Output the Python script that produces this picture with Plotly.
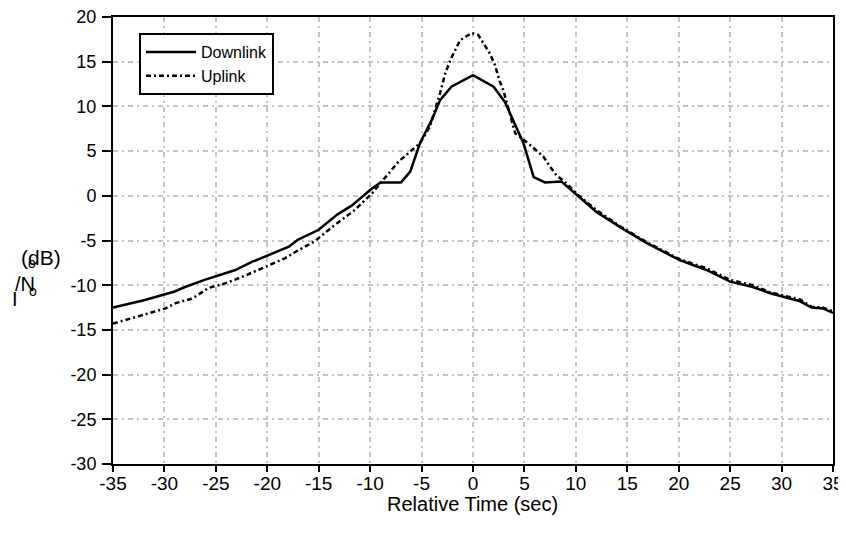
import plotly.graph_objects as go

x_down = [-35, -33.8, -31.9, -29, -28, -26.1, -24.8, -23.1, -21.5, -20.2, -17.9, -17, -15, -13.2, -11.8,
          -10, -9, -7, -6.1, -5.15, -4, -3.2, -2.1, 0, 2, 3.1, 4.9, 5.9, 7.0, 8.6, 10.1, 12, 14.3, 15.6,
          16.9, 20.1, 22.7, 25, 27.2, 28.9, 31.8, 32.9, 34, 35]
y_down = [-12.5, -12.2, -11.65, -10.7, -10.2, -9.4, -8.9, -8.3, -7.4, -6.8, -5.7, -4.9, -3.8, -2.1, -1.1,
          0.65, 1.5, 1.5, 2.7, 5.9, 8.5, 10.7, 12.2, 13.5, 12.2, 10.5, 5.9, 2.1, 1.5, 1.6, 0.1, -1.8, -3.5, -4.4,
          -5.3, -7.2, -8.3, -9.6, -10.2, -10.9, -11.8, -12.5, -12.6, -13.1]

x_up = [-35, -33.2, -31.5, -29.9, -28.9, -27.3, -25.7, -24.1, -22.3, -20.5, -18.3, -17, -15.4, -13.7, -11.5,
        -9.8, -8.55, -7.26, -6.3, -5.15, -4.2, -3.2, -2.7, -2.2, -1.26, -0.13, 0.5, 1.65, 2.14, 2.6, 2.95,
        3.76, 4.1, 5.54, 6.83, 7.5, 8.1, 9, 10.1, 12, 14.3, 15.6, 16.9, 20.1, 22.7, 25, 27.2, 28.9, 31.8,
        32.9, 34, 35]
y_up = [-14.3, -13.7, -13.1, -12.6, -12.0, -11.5, -10.3, -9.8, -9.0, -8.1, -7.0, -6.1, -5.1, -3.5, -1.6,
        0.3, 2.0, 3.8, 4.75, 5.9, 7.7, 11.5, 13.7, 15.2, 17.4, 18.2, 18.0, 15.9, 14.6, 12.8, 11.8,
        8.5, 7.0, 5.7, 4.4, 3.25, 2.3, 1.5, 0.2, -1.6, -3.4, -4.3, -5.2, -7.1, -8.1, -9.4, -10.0, -10.8, -11.6,
        -12.4, -12.5, -12.9]

x_ticks = list(range(-35, 40, 5))
y_ticks = list(range(-30, 25, 5))

FONT = "Liberation Sans, Arial, sans-serif"

fig = go.Figure()
fig.add_trace(go.Scatter(x=x_down, y=y_down, mode="lines", name="Downlink",
                         line=dict(color="black", width=2.5)))
fig.add_trace(go.Scatter(x=x_up, y=y_up, mode="lines", name="Uplink",
                         line=dict(color="black", width=2.5, dash="5px,3px,2px,3px")))

# page body has an 8px margin; work in reference-screenshot pixels and convert
OFF = 8
W, H = 846 - OFF, 542 - OFF
L = 113 - OFF
T = 17 - OFF
R = W - (833 - OFF)
B = H - (464 - OFF)
pw, ph = W - L - R, H - T - B

axis_common = dict(showline=True, linecolor="black", linewidth=2, mirror=True,
                   ticks="outside", tickwidth=2, tickcolor="black",
                   showgrid=True, gridcolor="#c4c4c4", gridwidth=2, griddash="5px,4px,2px,4px",
                   zeroline=False, automargin=False, ticklabeloverflow="allow")

def px2paper(x, y):
    # x, y in reference-screenshot pixels
    return (x - OFF - L) / pw, (H - B - (y - OFF)) / ph

lx, ly = px2paper(139, 33)
fig.update_layout(
    width=W, height=H,
    margin=dict(l=L, r=R, t=T, b=B),
    paper_bgcolor="white", plot_bgcolor="white",
    font=dict(family=FONT, color="black"),
    showlegend=True,
    legend=dict(x=lx, y=ly, xanchor="left", yanchor="top",
                bordercolor="black", borderwidth=2, bgcolor="white",
                font=dict(family=FONT, size=16, color="black"),
                tracegroupgap=0, itemwidth=50, entrywidth=130),
    xaxis=dict(range=[-35, 35], tickvals=x_ticks, ticktext=[str(v) for v in x_ticks],
               ticklen=6, ticklabelstandoff=-5,
               tickfont=dict(family=FONT, size=19, color="black"), **axis_common),
    yaxis=dict(range=[-30, 20], tickvals=y_ticks, ticktext=[str(v) for v in y_ticks],
               ticklen=9, ticklabelstandoff=2,
               tickfont=dict(family=FONT, size=18, color="black"), **axis_common),
)

# x-axis title
xx, yy = px2paper(472, 504)
fig.add_annotation(text="Relative Time (sec)", x=xx, y=yy, xref="paper", yref="paper", showarrow=False,
                   xanchor="center", yanchor="middle", font=dict(family=FONT, size=20, color="black"))

# garbled y-axis label as in the reference
for txt, (px, py), sz in [("(dB)", (41, 258), 21), ("o", (32, 263), 14),
                          ("/N", (25, 284), 20), ("o", (33, 291), 14), ("I", (15, 299), 20)]:
    xx, yy = px2paper(px, py)
    fig.add_annotation(text=txt, x=xx, y=yy, xref="paper", yref="paper", showarrow=False,
                       xanchor="center", yanchor="middle", font=dict(family=FONT, size=sz, color="black"))

fig.write_html("out.html")
